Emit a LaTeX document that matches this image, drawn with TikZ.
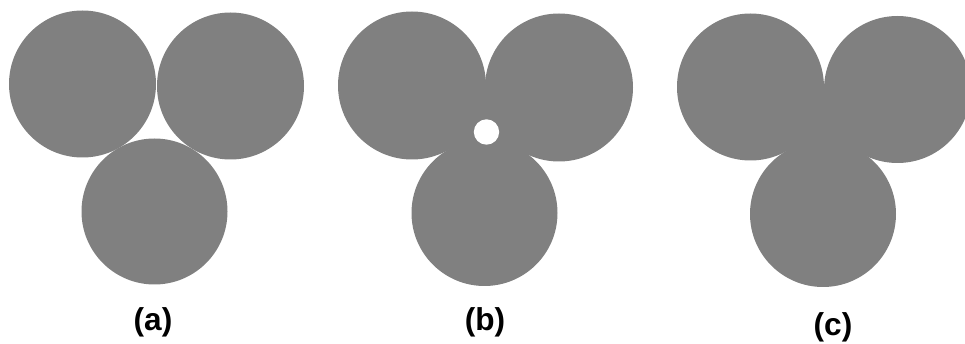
\documentclass[tikz,border=0pt]{standalone}
\usepackage{fontspec}
\setmainfont{Liberation Sans}
\definecolor{discgray}{RGB}{128,128,128}
\tikzset{
    disc/.style={fill=discgray},
    hole/.style={fill=white},
    lab/.style={font=\fontsize{18}{20}\selectfont\bfseries, inner sep=0pt}
}
\begin{document}
\begin{tikzpicture}[x=0.02cm, y=-0.02cm]
    \useasboundingbox (0, 0) rectangle (965, 344);

    % (a) three touching discs
    \fill[disc] (82.5, 84) circle (73.5);
    \fill[disc] (230.5, 86) circle (73.5);
    \fill[disc] (154.5, 211.5) circle (73);
    \node[lab] (la) at (153, 322) {(a)};

    % (b) discs with filled centre and a small pore
    \fill[disc] (412, 85.5) -- (559, 87.5) -- (484.5, 213) -- cycle;
    \fill[disc] (412, 85.5) circle (74);
    \fill[disc] (559, 87.5) circle (74);
    \fill[disc] (484.5, 213) circle (73);
    \fill[hole] (486.5, 132) circle (12.7);
    \node[lab] (lb) at (485, 322) {(b)};

    % (c) discs with filled centre
    \fill[disc] (750.5, 87) -- (897.5, 89.5) -- (823, 214) -- cycle;
    \fill[disc] (750.5, 87) circle (73.5);
    \fill[disc] (897.5, 89.5) circle (73.5);
    \fill[disc] (823, 214) circle (73);
    \node[lab] (lc) at (833, 327) {(c)};
\end{tikzpicture}
\end{document}
